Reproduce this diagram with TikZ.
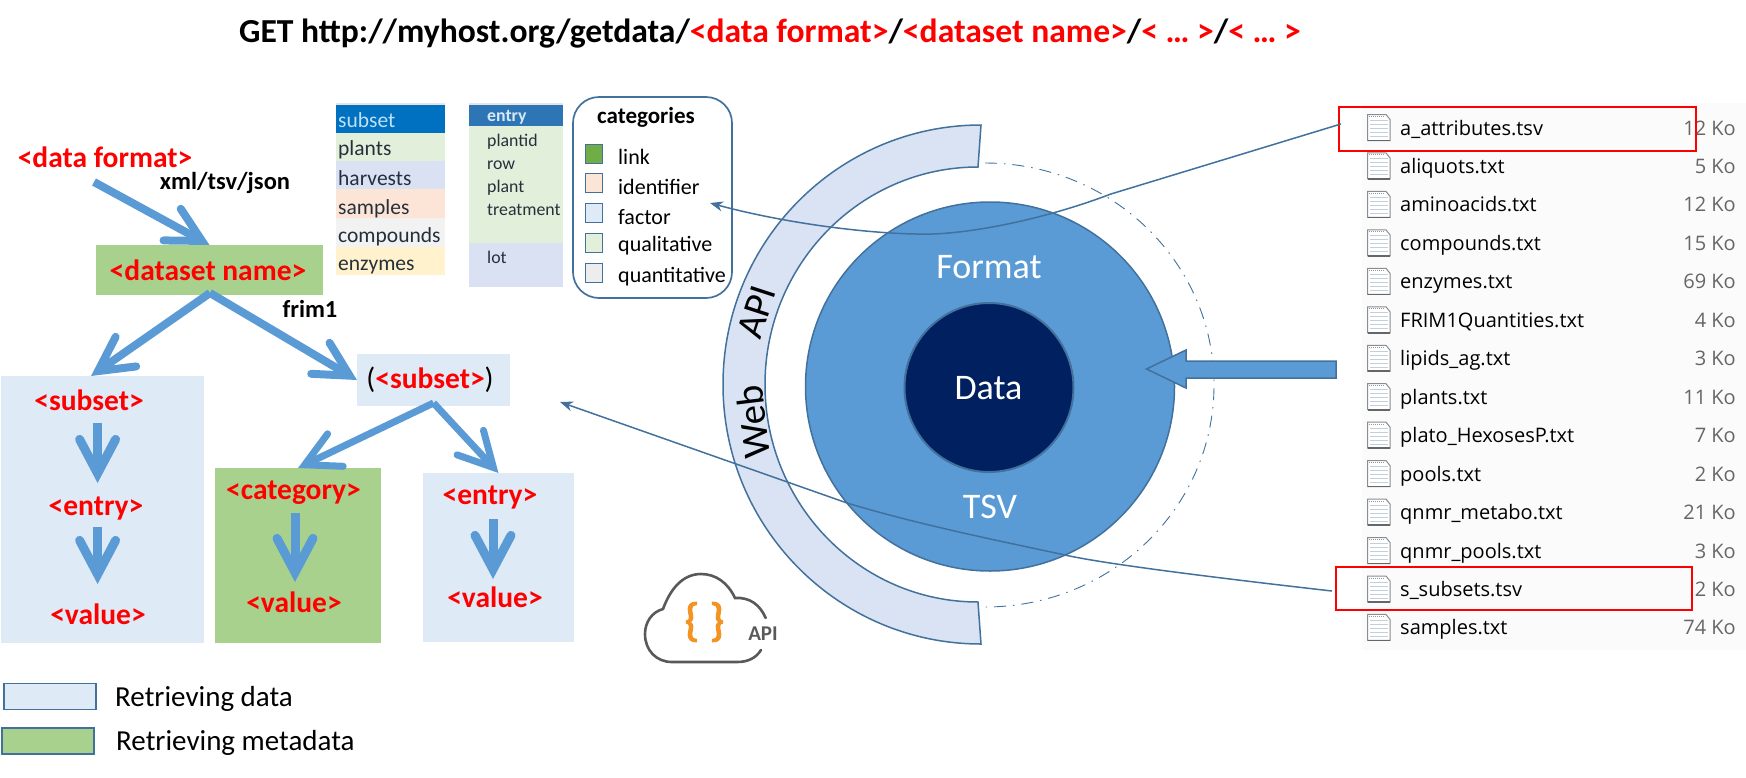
\documentclass[tikz,border=0pt]{standalone}
\usepackage{fontspec}
\setmainfont{Carlito}
\newfontfamily\filefont{Open Sans}
\newfontfamily\bracefont[FakeBold=2.5]{Carlito}
\usetikzlibrary{arrows.meta}
\definecolor{stk}{HTML}{41719C}
\definecolor{arr}{HTML}{5B9BD5}
\definecolor{lblue}{HTML}{DEEAF6}
\definecolor{lgreen}{HTML}{A9D18E}
\definecolor{navy}{HTML}{002060}
\definecolor{band}{HTML}{DAE3F3}
\definecolor{tabtxt}{HTML}{24303C}
\definecolor{iconline}{HTML}{C2D0DE}
\newcommand{\fsz}[1]{\fontsize{#1pt}{#1pt}\selectfont}
\tikzset{
  rbox/.style={inner sep=0pt,outer sep=0pt,draw=none},
  red label/.style={inner sep=0pt,text=red,font=\bfseries\fsz{29.5}},
  blk label/.style={inner sep=0pt,text=black,font=\bfseries\fsz{24.5}},
  bigarr/.style={draw=arr,line width=#1,-{Straight Barb[length=34pt,width=36pt,line cap=round,line join=miter]}},
  thin link/.style={draw=stk,line width=1.5pt,-{Stealth[length=13pt,width=10pt]}},
  redbox/.style={draw=red,line width=2.2pt,inner sep=0pt,fill=none},
  tabtext/.style={inner sep=0pt,anchor=west,text=tabtxt,font=\fsz{21.5}},
  enttext/.style={inner sep=0pt,anchor=west,text=tabtxt,font=\fsz{17.8}},
  cattext/.style={inner sep=0pt,anchor=west,text=black,font=\fsz{22}},
  catswatch/.style={draw=stk,line width=1.8pt,inner sep=0pt,minimum width=17pt,minimum height=19pt},
  legswatch/.style={draw=stk,line width=1.6pt,inner sep=0pt,minimum width=92pt,minimum height=26pt},
  legtext/.style={inner sep=0pt,anchor=west,text=black,font=\fsz{29}},
  ringtext/.style={inner sep=0pt,text=white,font=\fsz{36}},
  bandtext/.style={inner sep=0pt,text=black,font=\fsz{39}},
  filetext/.style={inner sep=0pt,anchor=base west,text=black,font=\filefont\fsz{20}},
  filesize/.style={inner sep=0pt,anchor=base east,text=black!60!white,font=\filefont\fsz{20}},
}
\begin{document}
\begin{tikzpicture}[x=1pt,y=-1pt,line join=miter]
\useasboundingbox (0,0) rectangle (1746,777);
% title
\node[inner sep=0pt,font=\bfseries\fsz{33.6}] (title) at (770,34) {GET http://myhost.org/getdata/\textcolor{red}{<data format>}/\textcolor{red}{<dataset name>}/\textcolor{red}{< … >}/\textcolor{red}{< … >}};
% left boxes
\node[rbox,fill=lgreen,minimum width=227pt,minimum height=50pt] (dataset) at (209.5,270) {};
\node[rbox,fill=lblue,minimum width=203pt,minimum height=267pt] (subsetL) at (102.5,509.5) {};
\node[rbox,fill=lblue,minimum width=153pt,minimum height=52pt] (subsub) at (433.5,380) {};
\node[rbox,fill=lgreen,minimum width=166pt,minimum height=175pt] (catbox) at (298,555.5) {};
\node[rbox,fill=lblue,minimum width=151pt,minimum height=169pt] (entbox) at (498.5,557.5) {};
% labels
\node[red label] (format) at (105,157) {<data format>};
\node[blk label] (xml) at (225,183) {xml/tsv/json};
\node[red label] (dsname) at (208,270) {<dataset name>};
\node[blk label] (frim) at (310,309) {frim1};
\node[red label] (tsubset) at (89,400) {<subset>};
\node[red label] (tentry) at (96,509) {<entry>};
\node[red label] (tvalue) at (98,614) {<value>};
\node[red label,text=black] (psub) at (430,380) {\textmd{(}\textcolor{red}{<subset>}\textmd{)}};
\node[red label] (tcat) at (293.5,493) {<category>};
\node[red label] (tval2) at (294,602) {<value>};
\node[red label] (tent3) at (490,498) {<entry>};
\node[red label] (tval3) at (495,597) {<value>};
% thick arrows
\draw[bigarr=8pt] ([shift={(-11pt,-25pt)}]format.center) -- (dataset.north);
\draw[bigarr=8pt] ([xshift=0.5pt,yshift=2pt]dataset.south) -- ([xshift=-11.5pt]subsetL.north);
\draw[bigarr=8pt] ([xshift=0.5pt,yshift=2pt]dataset.south) -- (subsub.west);
\draw[bigarr=7pt] ([yshift=3pt]subsub.south) -- (catbox.north);
\draw[bigarr=7pt] ([yshift=3pt]subsub.south) -- (entbox.north);
\draw[bigarr=9pt] ([shift={(8.6pt,-23pt)}]tsubset.center) -- ([shift={(1.6pt,26pt)}]tentry.center);
\draw[bigarr=9pt] ([shift={(1.6pt,-18pt)}]tentry.center) -- ([shift={(-0.4pt,30pt)}]tvalue.center);
\draw[bigarr=9pt] ([shift={(1.5pt,-20pt)}]tcat.center) -- ([shift={(1pt,20pt)}]tval2.center);
\draw[bigarr=9pt] ([shift={(3pt,-21pt)}]tent3.center) -- ([shift={(-2pt,18pt)}]tval3.center);
% subset table
\fill[fill=white!80!gray] (336,103) rectangle (445,105);
\fill[fill={rgb,255:red,0;green,112;blue,192}] (336,105) rectangle (445,133);
\fill[fill={rgb,255:red,226;green,239;blue,218}] (336,133) rectangle (445,161);
\fill[fill={rgb,255:red,217;green,225;blue,242}] (336,161) rectangle (445,189);
\fill[fill={rgb,255:red,252;green,228;blue,214}] (336,189) rectangle (445,218);
\fill[fill={rgb,255:red,242;green,242;blue,242}] (336,218) rectangle (445,247);
\fill[fill={rgb,255:red,255;green,242;blue,204}] (336,247) rectangle (445,275);
\node[tabtext,text={rgb,255:red,190;green,225;blue,245}] (ts0) at (338,120) {subset};
\node[tabtext] (ts1) at (338,150) {plants};
\node[tabtext] (ts2) at (338,178) {harvests};
\node[tabtext] (ts3) at (338,209) {samples};
\node[tabtext] (ts4) at (338,237) {compounds};
\node[tabtext] (ts5) at (338,267) {enzymes};
% entry table
\fill[fill=white!80!gray] (469,103) rectangle (563,105);
\fill[fill={rgb,255:red,46;green,117;blue,182}] (469,105) rectangle (563,126);
\fill[fill={rgb,255:red,226;green,239;blue,218}] (469,126) rectangle (563,243);
\fill[fill={rgb,255:red,217;green,225;blue,242}] (469,243) rectangle (563,287);
\node[enttext,font=\bfseries\fsz{17.8},text={rgb,255:red,215;green,232;blue,245}] (te0) at (487,117) {entry};
\node[enttext] (te1) at (487,142) {plantid};
\node[enttext] (te2) at (487,165) {row};
\node[enttext] (te3) at (487,188) {plant};
\node[enttext] (te4) at (487,210) {treatment};
\node[enttext] (te5) at (487,257) {lot};
% categories
\node[draw=stk,line width=1.7pt,fill=white,rounded corners=26pt,inner sep=0pt,minimum width=159pt,minimum height=201pt] (cats) at (652.5,197.5) {};
\node[inner sep=0pt,font=\bfseries\fsz{23}] (catt) at (646,117) {categories};
\node[catswatch,fill={rgb,255:red,112;green,173;blue,71}] (c1) at (594,154) {};
\node[catswatch,fill={rgb,255:red,251;green,229;blue,214}] (c2) at (594,183) {};
\node[catswatch,fill={rgb,255:red,222;green,235;blue,247}] (c3) at (594,213) {};
\node[catswatch,fill={rgb,255:red,226;green,240;blue,217}] (c4) at (594,243) {};
\node[catswatch,fill={rgb,255:red,237;green,237;blue,237}] (c5) at (594,273) {};
\node[cattext] (cl1) at (618,157) {link};
\node[cattext] (cl2) at (618,187) {identifier};
\node[cattext] (cl3) at (618,217) {factor};
\node[cattext] (cl4) at (618,246) {qualitative};
\node[cattext] (cl5) at (618,277) {quantitative};
% band and rings
\draw[stk,line width=1.5pt,fill=band] (981,125) arc[start angle=90,end angle=270,x radius=258pt,y radius=259.5pt] -- (978,602) arc[start angle=270,end angle=90,x radius=213pt,y radius=217.5pt] -- cycle;
\draw[stk,line width=0.9pt,dash pattern=on 12pt off 7pt on 1.5pt off 7pt] (985,163) arc[start angle=90,end angle=-90,x radius=229pt,y radius=222pt];
\node[circle,draw=stk,line width=1.5pt,fill=arr,minimum size=369pt,inner sep=0pt] (main) at (990,386.5) {};
\node[circle,draw=stk,line width=2pt,fill=navy,minimum size=169pt,inner sep=0pt] (core) at (989,387.5) {};
\node[ringtext] (fmt) at (989,267) {Format};
\node[ringtext] (dat) at (988.5,388) {Data};
\node[ringtext] (tsv) at (990,507) {TSV};
\node[bandtext,rotate=72] (apit) at (757,312) {API};
\node[bandtext,rotate=97] (webt) at (753,422) {Web};
% block arrow
\draw[stk,line width=1.5pt,fill=arr] (1146.5,369) -- (1186,350) -- (1186,361) -- (1336,361) -- (1336,378) -- (1186,378) -- (1186,388) -- cycle;
% cloud
\draw[black!65!white,line width=2.6pt,line cap=round] (765.7,618) .. controls (760,605) and (750,597) .. (735,598) .. controls (728,583) and (716,574) .. (701,574) .. controls (682,574) and (670,590) .. (663,609) .. controls (652,612) and (645,622) .. (645,634) .. controls (645,650) and (656,662) .. (672,662) -- (737,662) .. controls (748,662) and (756,658) .. (761,650);
\node[inner sep=0pt,font=\bracefont\fsz{46},text={rgb,255:red,243;green,147;blue,34}] (br1) at (692,622) {\{};
\node[inner sep=0pt,font=\bracefont\fsz{46},text={rgb,255:red,243;green,147;blue,34}] (br2) at (717,622) {\}};
\node[inner sep=0pt,font=\bfseries\fsz{21},text=black!65!white] (apil) at (763,634) {API};
% file list
\fill[fill={rgb,255:red,251;green,251;blue,251}] (1362,103) rectangle (1746,650);
\foreach \f/\s [count=\i] in {a\_attributes.tsv/12 Ko,aliquots.txt/5 Ko,aminoacids.txt/12 Ko,compounds.txt/15 Ko,enzymes.txt/69 Ko,FRIM1Quantities.txt/4 Ko,lipids\_ag.txt/3 Ko,plants.txt/11 Ko,plato\_HexosesP.txt/7 Ko,pools.txt/2 Ko,qnmr\_metabo.txt/21 Ko,qnmr\_pools.txt/3 Ko,s\_subsets.tsv/2 Ko,samples.txt/74 Ko}{
  \pgfmathsetmacro{\yy}{127.5+38.46*(\i-1)}
  \fill[white,draw=black!45!white,line width=1pt] (1367.5,\yy-13) -- (1386,\yy-13) -- (1390,\yy-8) -- (1390,\yy+13) -- (1367.5,\yy+13) -- cycle;
  \foreach \k in {-7,-3,1,5,9}{\draw[iconline,line width=1pt] (1370,\yy+\k) -- (1388,\yy+\k);}
  \draw[black!40!white,line width=1pt,densely dotted] (1369,\yy-11) -- (1385,\yy-11);
  \draw[black!60!white,line width=1.6pt] (1367.5,\yy+13) -- (1390,\yy+13);
  \node[filetext] (fn\i) at (1400,\yy+7.5) {\f};
  \node[filesize] (fs\i) at (1736,\yy+7.5) {\s};
}
\node[redbox,minimum width=357pt,minimum height=44pt] (abox) at (1517.5,129) {};
\node[redbox,minimum width=356pt,minimum height=43pt] (sbox) at (1514,588.5) {};
% thin links
\draw[thin link] ([shift={(3pt,5pt)}]abox.west) -- +(-230,70) .. controls (1040,221) and (960,236) .. (916,234) .. controls (860,233) and (780,222) .. ([shift={(57.5pt,-5.5pt)}]cats.center);
\draw[thin link] ([shift={(-3pt,-2.5pt)}]sbox.west) .. controls (1200,576) and (1100,563) .. (1065,555) .. controls (1000,541) and (920,525) .. (847,503) -- ([shift={(50pt,-22pt)}]subsub.east);
% legend
\node[legswatch,fill=lblue] (leg1) at (50,696.5) {};
\node[legswatch,fill=lgreen] (leg2) at (48,741) {};
\node[legtext] (lt1) at (115,699) {Retrieving data};
\node[legtext] (lt2) at (116,743) {Retrieving metadata};
\end{tikzpicture}
\end{document}
